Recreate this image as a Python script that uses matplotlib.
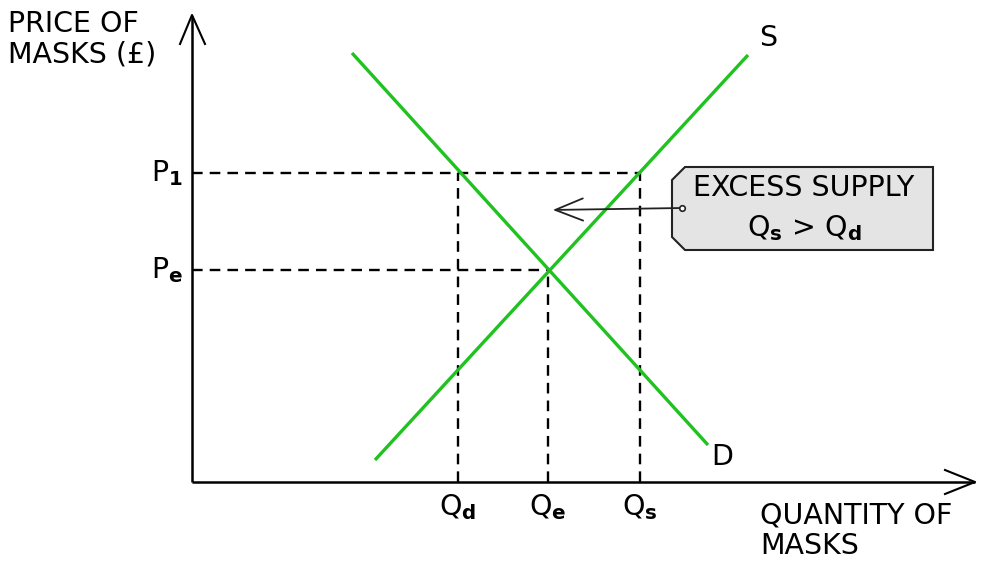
import numpy as np
import matplotlib.pyplot as plt
from matplotlib.patches import Polygon

# chart values (quantity / price units, origin at the axis corner)
quantities = {"Qd": 26.6, "Qe": 35.6, "Qs": 44.8}
prices = {"P1": 30.9, "Pe": 21.2}
supply_q = [18.3, 55.6]
supply_p = [2.2, 42.7]
demand_q = [16.0, 51.6]
demand_p = [42.9, 3.7]
q_labels = ["Q$_\\mathbf{d}$", "Q$_\\mathbf{e}$", "Q$_\\mathbf{s}$"]
p_labels = ["P$_\\mathbf{1}$", "P$_\\mathbf{e}$"]

GREEN = "#1fc21f"
FS = 20.5

fig = plt.figure(figsize=(9.85, 5.64), dpi=100)
ax = fig.add_axes([0, 0, 1, 1])
ax.set_xlim(-19.2, 79.3)
ax.set_ylim(-8.2, 48.2)
ax.axis("off")

# axes with open arrow heads
ax.plot([0, 0], [0, 46.6], color="black", lw=1.8, solid_capstyle="butt")
ax.plot([-1.2, 0, 1.3], [43.8, 46.7, 43.8], color="black", lw=1.5)
ax.plot([0, 78.3], [0, 0], color="black", lw=1.8, solid_capstyle="butt")
ax.plot([75.3, 78.3, 75.3], [1.2, 0, -1.2], color="black", lw=1.5)

# dashed guides
dash = dict(color="black", lw=1.7, linestyle=(0, (4.5, 3)))
ax.plot([0, quantities["Qs"]], [prices["P1"]] * 2, **dash)
ax.plot([0, quantities["Qe"]], [prices["Pe"]] * 2, **dash)
ax.plot([quantities["Qd"]] * 2, [0, prices["P1"]], **dash)
ax.plot([quantities["Qe"]] * 2, [0, prices["Pe"]], **dash)
ax.plot([quantities["Qs"]] * 2, [0, prices["P1"]], **dash)

# supply and demand
ax.plot(supply_q, supply_p, color=GREEN, lw=2.4, solid_capstyle="butt")
ax.plot(demand_q, demand_p, color=GREEN, lw=2.4, solid_capstyle="butt")
ax.text(57.6, 44.4, "S", fontsize=FS, ha="center", va="center")
ax.text(53.0, 2.5, "D", fontsize=FS, ha="center", va="center")

# tick labels
for lab, q in zip(q_labels, quantities.values()):
    ax.text(q, -2.5, lab, fontsize=FS, ha="center", va="center")
for lab, p in zip(p_labels, prices.values()):
    ax.text(-2.5, p, lab, fontsize=FS, ha="center", va="center")

# axis titles
ax.text(-18.4, 44.3, "PRICE OF\nMASKS (£)", fontsize=FS, ha="left", va="center",
        linespacing=1.1)
ax.text(56.8, -4.9, "QUANTITY OF\nMASKS", fontsize=FS, ha="left", va="center",
        linespacing=1.1)

# callout box
box = Polygon([(49.3, 31.5), (74.1, 31.5), (74.1, 23.2), (49.3, 23.2),
               (48.0, 24.5), (48.0, 30.2)], closed=True,
              facecolor="#e4e4e4", edgecolor="#222222", lw=1.5)
ax.add_patch(box)
ax.text(61.2, 29.4, "EXCESS SUPPLY", fontsize=FS, ha="center", va="center")
ax.text(61.2, 25.4, "Q$_\\mathbf{s}$ > Q$_\\mathbf{d}$", fontsize=FS,
        ha="center", va="center")
ax.annotate("", xy=(35.8, 27.2), xytext=(49.0, 27.4),
            arrowprops=dict(arrowstyle="->,head_length=2.0,head_width=0.8",
                            color="#222222", lw=1.3))
ax.plot([49.0], [27.4], marker="o", markersize=4, markerfacecolor="white",
        markeredgecolor="#222222", markeredgewidth=1.2)

fig.savefig("out.png", dpi=100, facecolor="white")
